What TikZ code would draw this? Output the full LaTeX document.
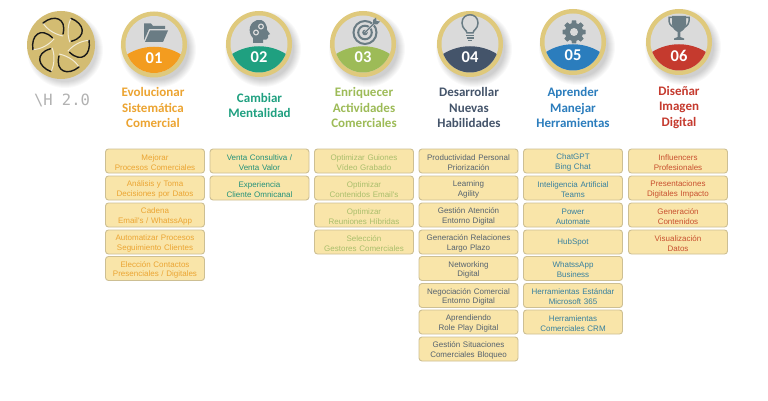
\documentclass[tikz,border=0pt]{standalone}
\usepackage{fontspec}
\setmainfont{Carlito}
\newfontfamily\boxfont{Liberation Sans}
\newfontfamily\logofont{DejaVu Sans Mono}
\definecolor{cA}{HTML}{F39C1F}
\definecolor{cB}{HTML}{1FA080}
\definecolor{cC}{HTML}{9DBB57}
\definecolor{cD}{HTML}{44546A}
\definecolor{cE}{HTML}{2B7DBD}
\definecolor{cF}{HTML}{C53A2E}
\definecolor{tA}{HTML}{EBA533}
\definecolor{tB}{HTML}{23917A}
\definecolor{tC}{HTML}{A9BE6B}
\definecolor{tD}{HTML}{55626F}
\definecolor{tE}{HTML}{37809F}
\definecolor{tF}{HTML}{C8502F}
\definecolor{gold}{HTML}{DFC97C}
\definecolor{discgold}{HTML}{D3BC72}
\definecolor{disc}{HTML}{DADADA}
\definecolor{icon}{HTML}{6A7C84}
\definecolor{boxfill}{HTML}{F9E5A9}
\definecolor{boxline}{HTML}{CDBF93}
\tikzset{
 x=1pt,y=-1pt,
 cardbox/.style={draw=boxline,line width=0.9pt,fill=boxfill,rounded corners=3pt,minimum width=99pt,minimum height=24pt,inner sep=0pt,align=center,text width=99pt,font=\boxfont\fontsize{8}{9.7}\selectfont},
 titletext/.style={align=center,inner sep=0pt,font=\bfseries\fontsize{13}{15.5}\selectfont},
 numtext/.style={text=white,inner sep=0pt,font=\bfseries\fontsize{16.5}{18}\selectfont},
 iconline/.style={draw=icon,line width=1.5pt},
}
% #1 name, #2 x, #3 y, #4 colour, #5 number, #6 icon drawing
\newcommand{\badge}[6]{%
 \begin{scope}[shift={(#2,#3)}]
  \foreach \sr in {38,37,36,35,34,33,32,31}{\fill[black,opacity=0.025] (4,5) circle[radius=\sr];}
  \fill[gold] (0,0) circle[radius=33];
  \fill[disc] (0,0) circle[radius=28.5];
  \begin{scope}
   \clip (0,0) circle[radius=28.5];
   \fill[#4] (-30,12) .. controls (-12,-1) and (12,-1) .. (30,12) -- (30,30) -- (-30,30) -- cycle;
  \end{scope}
  #6
  \node[numtext] (#1) at (0,13.5) {#5};
 \end{scope}}
\newcommand{\card}[6]{\node[cardbox,text=#4] (#1) at (#2,#3) {\rule{0pt}{8.4pt}#5\\#6};}
\begin{document}
\begin{tikzpicture}
\useasboundingbox (0,0) rectangle (768,401);
\fill[white] (0,0) rectangle (768,401);
% logo
\begin{scope}[shift={(61,45)}]
 \foreach \sr in {38,37,36,35,34,33,32}{\fill[black,opacity=0.025] (4,5) circle[radius=\sr];}
 \fill[discgold] (0,0) circle[radius=34];
 \foreach \a in {0,60,...,300}{
  \draw[rotate=\a,draw=white!70!discgold,line width=1pt] (2,-9) .. controls (-8,-11) and (-15,-17) .. (-18,-22);
  \draw[rotate=\a,black!90,line width=1.4pt,line cap=round] (-18,-22) .. controls (-7,-31) and (6,-27) .. (2,-11);
 }
\end{scope}
\node[inner sep=0pt,text=black!30,font=\logofont\fontsize{15.5}{16}\selectfont] (logotext) at (62,100) {\textbackslash H 2.0};
% badges
\badge{n1}{154}{44.5}{cA}{01}{
 \fill[icon] (-10,-4) -- (-10,-21) -- (-3,-21) -- (-1,-18.5) -- (11,-18.5) -- (11,-15.5) -- (-5,-15.5) -- (-10,-4) -- cycle;
 \fill[icon] (-9,-2.5) -- (-4,-14) -- (14,-14) -- (9,-2.5) -- cycle;
}
\badge{n2}{259}{44}{cB}{02}{
 \fill[icon] (-6,-1) -- (-6,-6) .. controls (-9,-9) and (-10,-13) .. (-9,-17) .. controls (-7,-24) and (2,-27) .. (6,-21) .. controls (8,-18) and (8,-16) .. (8,-14) -- (11,-10) -- (9,-9) -- (9,-6) .. controls (9,-4) and (6,-4) .. (4,-4.5) -- (4,-1) -- cycle;
 \draw[disc,line width=1.2pt] (-3,-11.5) circle[radius=2.4] (2,-17.5) circle[radius=2.4];
}
\badge{n3}{363}{44}{cC}{03}{
 \draw[iconline,line width=2pt] (2,-11.5) circle[radius=11.5];
 \draw[iconline,line width=2pt] (2,-11.5) circle[radius=6.8];
 \fill[icon] (2,-11.5) circle[radius=2.8];
 \draw[disc,line width=2.4pt] (2,-11.5) -- (13,-22.5);
 \draw[icon,line width=1.2pt] (2,-11.5) -- (12,-21.5);
 \fill[icon] (10,-20) -- (10,-24) -- (13,-26.5) -- (13.5,-23) -- (17,-22.5) -- (14,-19.5) -- cycle;
}
\badge{n4}{470}{44}{cD}{04}{
 \draw[iconline] (-3,-11) .. controls (-3,-14) and (-8,-15) .. (-8,-21) .. controls (-8,-32) and (8,-32) .. (8,-21) .. controls (8,-15) and (3,-14) .. (3,-11) -- cycle;
 \draw[icon,line width=1.2pt] (-4,-8.5) -- (4,-8.5) (-3.5,-6) -- (3.5,-6) (-2,-3.5) -- (2,-3.5);
}
\badge{n5}{573}{42}{cE}{05}{
 \begin{scope}[shift={(1,-10)}]
  \fill[icon] (0,0) circle[radius=9];
  \foreach \a in {0,45,...,315}{\fill[icon,rotate=\a] (-2.8,-7) -- (-2.1,-11.5) -- (2.1,-11.5) -- (2.8,-7) -- cycle;}
  \fill[disc] (0,0) circle[radius=4];
 \end{scope}
}
\badge{n6}{679}{42}{cF}{06}{
 \fill[icon] (-7,-26) -- (7,-26) -- (7,-18) .. controls (7,-13) and (3,-11) .. (1.3,-10) -- (1.3,-5) -- (5,-3.5) -- (5,-2) -- (-5,-2) -- (-5,-3.5) -- (-1.3,-5) -- (-1.3,-10) .. controls (-3,-11) and (-7,-13) .. (-7,-18) -- cycle;
 \draw[iconline] (-7,-24.5) -- (-10,-24.5) .. controls (-10.5,-19) and (-9,-16.5) .. (-5,-14.5);
 \draw[iconline] (7,-24.5) -- (10,-24.5) .. controls (10.5,-19) and (9,-16.5) .. (5,-14.5);
}
% titles
\node[titletext,text=tA!90!cA] (t1) at (153,107.5) {Evolucionar\\Sistemática\\Comercial};
\node[titletext,text=cB] (t2) at (259.5,105.5) {Cambiar\\Mentalidad};
\node[titletext,text=cC] (t3) at (364,107.5) {Enriquecer\\Actividades\\Comerciales};
\node[titletext,text=cD] (t4) at (469,107.5) {Desarrollar\\Nuevas\\Habilidades};
\node[titletext,text=cE] (t5) at (573,107.5) {Aprender\\Manejar\\Herramientas};
\node[titletext,text=cF] (t6) at (679,107.5) {Diseñar\\Imagen\\Digital};
% column 1
\card{a1}{155}{161}{tA}{Mejorar}{Procesos Comerciales}
\card{a2}{155}{188}{tA}{Análisis y Toma}{Decisiones por Datos}
\card{a3}{155}{215}{tA}{Cadena}{Email's / WhatssApp}
\card{a4}{155}{242}{tA}{Automatizar Procesos}{Seguimiento Clientes}
\card{a5}{155}{268.5}{tA}{Elección Contactos}{Presenciales / Digitales}
% column 2
\card{b1}{259.5}{161}{tB}{Venta Consultiva /}{Venta Valor}
\card{b2}{259.5}{188}{tB}{Experiencia}{Cliente Omnicanal}
% column 3
\card{c1}{364}{161}{tC}{Optimizar Guiones}{Vídeo Grabado}
\card{c2}{364}{188}{tC}{Optimizar}{Contenidos Email's}
\card{c3}{364}{215}{tC}{Optimizar}{Reuniones Híbridas}
\card{c4}{364}{242}{tC}{Selección}{Gestores Comerciales}
% column 4
\card{d1}{468.5}{161}{tD}{Productividad Personal}{Priorización}
\card{d2}{468.5}{188}{tD}{Learning}{Agility}
\card{d3}{468.5}{215}{tD}{Gestión Atención}{Entorno Digital}
\card{d4}{468.5}{242}{tD}{Generación Relaciones}{Largo Plazo}
\card{d5}{468.5}{268.5}{tD}{Networking}{Digital}
\card{d6}{468.5}{295.5}{tD}{Negociación Comercial}{Entorno Digital}
\card{d7}{468.5}{322}{tD}{Aprendiendo}{Role Play Digital}
\card{d8}{468.5}{349}{tD}{Gestión Situaciones}{Comerciales Bloqueo}
% column 5
\card{e1}{573}{161}{tE}{ChatGPT}{Bing Chat}
\card{e2}{573}{188}{tE}{Inteligencia Artificial}{Teams}
\card{e3}{573}{215}{tE}{Power}{Automate}
\node[cardbox,text=tE] (e4) at (573,242) {HubSpot};
\card{e5}{573}{268.5}{tE}{WhatssApp}{Business}
\card{e6}{573}{295.5}{tE}{Herramientas Estándar}{Microsoft 365}
\card{e7}{573}{322}{tE}{Herramientas}{Comerciales CRM}
% column 6
\card{f1}{678}{161}{tF}{Influencers}{Profesionales}
\card{f2}{678}{188}{tF}{Presentaciones}{Digitales Impacto}
\card{f3}{678}{215}{tF}{Generación}{Contenidos}
\card{f4}{678}{242}{tF}{Visualización}{Datos}
\end{tikzpicture}
\end{document}
